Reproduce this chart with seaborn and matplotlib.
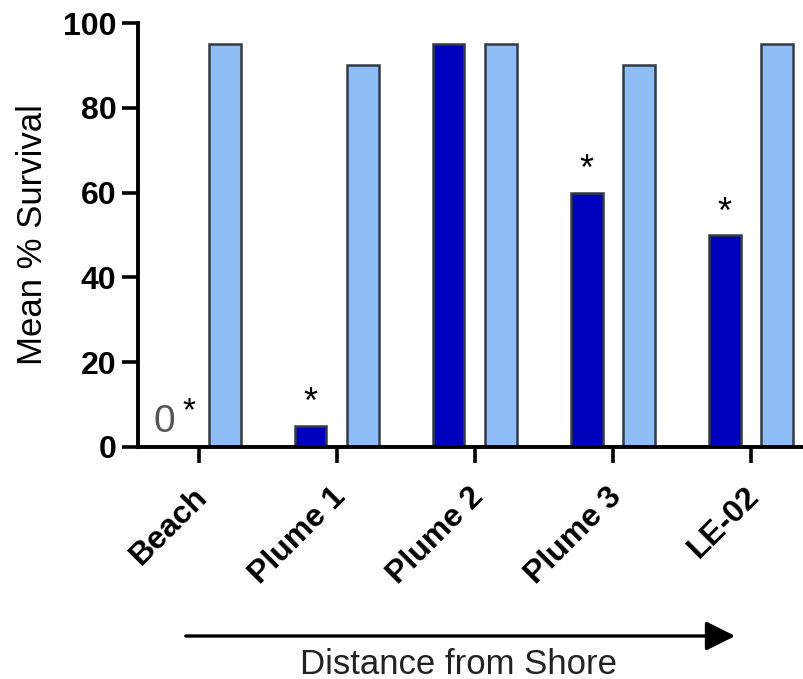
import matplotlib
matplotlib.use("Agg")
import matplotlib.pyplot as plt
import matplotlib.transforms as mtransforms
import seaborn as sns
import pandas as pd

sites = ["Beach", "Plume 1", "Plume 2", "Plume 3", "LE-02"]
treated = [0, 5, 95, 60, 50]
control = [95, 90, 95, 90, 95]
significant = [True, True, False, True, True]
groups = ["Treatment", "Control"]
colors = ["#0000BE", "#8FBEF7"]

df = pd.DataFrame({
    "site": sites * 2,
    "survival": treated + control,
    "group": [groups[0]] * len(sites) + [groups[1]] * len(sites),
})

sns.set_style("ticks")
plt.rcParams["font.family"] = ["Liberation Sans", "DejaVu Sans"]
plt.rcParams["text.color"] = "black"
plt.rcParams["axes.labelcolor"] = "black"
plt.rcParams["xtick.color"] = "black"
plt.rcParams["ytick.color"] = "black"

fig = plt.figure(figsize=(8.04, 6.79), dpi=100)
ax = fig.add_axes([0.1716, 0.3417, 0.8284, 0.6244])

sns.barplot(data=df, x="site", y="survival", hue="group", order=sites,
            hue_order=groups, palette=colors, saturation=1, width=0.76, gap=0.4,
            edgecolor="#333B44", linewidth=1.8, legend=False, ax=ax,
            errorbar=None)

ax.set_ylim(0, 100)
ax.set_xlim(-0.442, 4.384)
ax.set_yticks([0, 20, 40, 60, 80, 100])
sns.despine(ax=ax)
for s in ["left", "bottom"]:
    ax.spines[s].set_linewidth(2.8)
    ax.spines[s].set_color("black")
ax.tick_params(axis="both", length=11.5, width=2.6, color="black", labelcolor="black")
ax.tick_params(axis="y", pad=4, labelsize=23)
ax.tick_params(axis="x", pad=21, labelsize=23)
for lab in ax.get_yticklabels():
    lab.set_fontweight("bold")
ax.set_xticks(range(len(sites)))
ax.set_xticklabels(sites, rotation=45, ha="right", va="center",
                   rotation_mode="anchor", fontweight="bold")
shift = mtransforms.ScaledTranslation(4 / 100, 0, fig.dpi_scale_trans)
for lab in ax.get_xticklabels():
    lab.set_transform(lab.get_transform() + shift)
ax.set_xlabel("")
ax.set_ylabel("Mean % Survival", fontsize=25, labelpad=10, color="black")

# significance markers
off = 0.76 / 4
for i, (v, sig) in enumerate(zip(treated, significant)):
    if not sig:
        continue
    if v == 0:
        ax.annotate("0", xy=(i - off, v), xytext=(2, 11), textcoords="offset points",
                    ha="right", va="baseline", fontsize=28, color="#555555")
        ax.annotate("*", xy=(i - off, v), xytext=(7, 19), textcoords="offset points",
                    ha="left", va="baseline", fontsize=24, color="black")
    else:
        ax.annotate("*", xy=(i - off, v), xytext=(0, 9), textcoords="offset points",
                    ha="center", va="baseline", fontsize=26, color="black")

# arrow + label
fig.add_artist(matplotlib.patches.FancyArrowPatch(
    (183 / 804, 1 - 636 / 679), (738 / 804, 1 - 636 / 679),
    transform=fig.transFigure, arrowstyle="-|>,head_length=0.9,head_width=0.45",
    mutation_scale=20, linewidth=2.4, color="black"))
fig.text(459 / 804, 1 - 664 / 679, "Distance from Shore", ha="center", va="center",
         fontsize=25, color="#222222")

fig.savefig("out.png", dpi=100)
